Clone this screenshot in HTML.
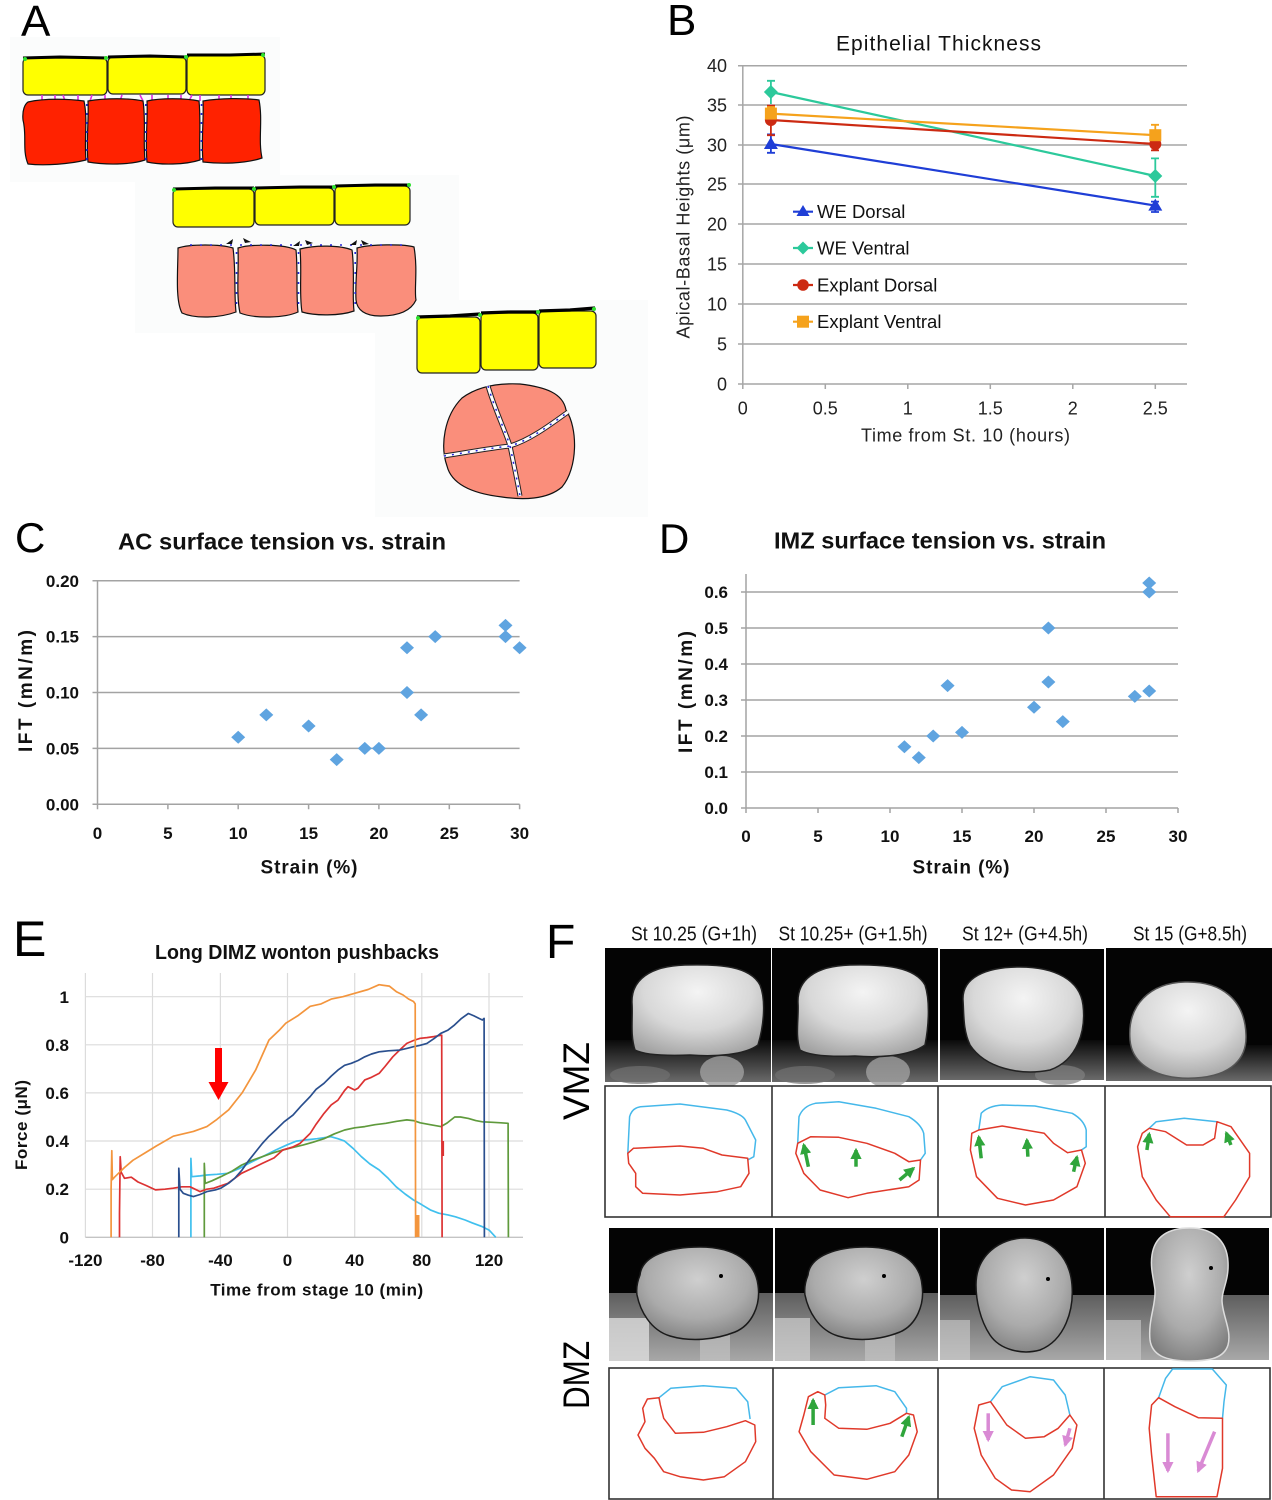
<!DOCTYPE html>
<html><head><meta charset="utf-8"><style>
html,body{margin:0;padding:0;background:#fff;}
svg{display:block;}
text{font-family:"Liberation Sans",Arial,sans-serif;}
</style></head><body>
<svg width="1272" height="1500" viewBox="0 0 1272 1500" xmlns="http://www.w3.org/2000/svg">
<defs>
<radialGradient id="gv" cx="50%" cy="30%" r="75%"><stop offset="0" stop-color="#f4f4f4"/><stop offset="0.55" stop-color="#d8d8d8"/><stop offset="1" stop-color="#a2a2a2"/></radialGradient>
<radialGradient id="gd" cx="50%" cy="35%" r="70%"><stop offset="0" stop-color="#cfcfcf"/><stop offset="0.6" stop-color="#ababab"/><stop offset="1" stop-color="#7e7e7e"/></radialGradient>
<linearGradient id="vb" x1="0" y1="0" x2="0" y2="1"><stop offset="0" stop-color="#0a0a0a"/><stop offset="1" stop-color="#6a6a6a"/></linearGradient>
<linearGradient id="db" x1="0" y1="0" x2="0" y2="1"><stop offset="0" stop-color="#5e5e5e"/><stop offset="1" stop-color="#a8a8a8"/></linearGradient>
<marker id="ag" viewBox="0 0 10 10" refX="8" refY="5" markerWidth="3.2" markerHeight="3.2" orient="auto" markerUnits="strokeWidth"><path d="M0,0L10,5L0,10z" fill="#2fa53b"/></marker>
<marker id="ap" viewBox="0 0 10 10" refX="8" refY="5" markerWidth="3.2" markerHeight="3.2" orient="auto" markerUnits="strokeWidth"><path d="M0,0L10,5L0,10z" fill="#d98ad4"/></marker>
</defs>

<!-- ================= PANEL A ================= -->
<rect x="10" y="37" width="270" height="145" fill="#fbfcfc"/>
<rect x="135" y="175" width="324" height="158" fill="#fbfcfc"/>
<rect x="375" y="300" width="273" height="217" fill="#fbfcfc"/>
<text x="21" y="36" font-size="44" fill="#000">A</text>

<!-- row 1 -->
<g stroke="#222" stroke-width="1.2" fill="#ffff00">
<rect x="23" y="58" width="84" height="37" rx="5"/>
<rect x="108" y="57" width="78" height="37" rx="5"/>
<rect x="187" y="55" width="78" height="40" rx="5"/>
</g>
<path d="M23,58 L60,57 L107,58 M108,57 L150,56 L186,57 M187,55 L230,55 L265,54" stroke="#000" stroke-width="3" fill="none"/>
<g fill="#2ee02e"><circle cx="25" cy="59" r="2"/><circle cx="106" cy="58" r="2"/><circle cx="186" cy="57" r="2"/><circle cx="263" cy="55" r="2"/></g>
<g stroke="#e030e0" stroke-width="1.6">
<path d="M42,95v6M55,95v6M63,95l2,6M78,95v6M92,95l-2,6M105,95v6M122,95l-2,6M140,95l3,6M152,95v6M168,95v6M181,95v6M192,95l-3,6M200,95v6M219,95v6M231,95v6M248,95v6"/>
</g>
<g stroke="#111" stroke-width="1.2" fill="#ff2200">
<path d="M28,102 C45,98 70,99 84,101 C88,120 84,140 86,160 C70,164 45,166 28,164 C22,150 27,135 23,120 C22,110 25,104 28,102 Z"/>
<path d="M88,101 C105,98 130,98 143,101 C146,120 143,140 145,160 C130,165 105,165 88,162 C86,140 89,120 88,101 Z"/>
<path d="M147,101 C160,98 185,98 199,101 C201,120 199,140 200,160 C185,165 160,165 147,162 C145,140 148,120 147,101 Z"/>
<path d="M203,101 C220,98 245,98 259,100 C263,120 258,140 262,158 C245,164 220,164 203,162 C201,140 204,120 203,101 Z"/>
</g>
<g stroke="#2424d8" stroke-width="1.6" stroke-dasharray="2 7"><path d="M86.8,104V160M145.8,104V160M201.5,104V160"/></g>

<!-- row 2 -->
<g stroke="#222" stroke-width="1.2" fill="#ffff00">
<rect x="173" y="189" width="81" height="38" rx="5"/>
<rect x="255" y="188" width="79" height="37" rx="5"/>
<rect x="335" y="186" width="75" height="39" rx="5"/>
</g>
<path d="M173,189 L215,188 L254,188 M255,188 L300,187 L334,187 M335,186 L375,185 L410,185" stroke="#000" stroke-width="3" fill="none"/>
<g fill="#2ee02e"><circle cx="174" cy="190" r="2"/><circle cx="254" cy="189" r="2"/><circle cx="334" cy="187" r="2"/><circle cx="409" cy="185" r="2"/></g>
<g stroke="#111" stroke-width="1.2" fill="#fa8e7b">
<path d="M178,248 C190,244 220,244 233,248 C236,270 234,295 236,312 C220,318 195,319 182,313 C175,300 178,270 178,248 Z"/>
<path d="M238,248 C250,244 285,244 296,250 C298,270 296,295 298,312 C285,318 255,319 240,313 C236,295 239,270 238,248 Z"/>
<path d="M300,249 C315,245 340,245 352,250 C355,270 352,295 354,311 C340,316 315,316 302,312 C299,295 302,270 300,249 Z"/>
<path d="M357,248 C370,244 405,244 414,247 C418,270 414,290 416,300 C410,313 395,316 380,316 C365,316 357,310 356,300 C355,280 358,265 357,248 Z"/>
</g>
<g stroke="#2424d8" stroke-width="1.6" stroke-dasharray="2 8"><path d="M190,245H410M236.5,252V312M298.5,252V312M355.2,252V312"/></g>
<g fill="#111"><path d="M226,244l7,-5l-1,5z M243,238l8,4l-6,1z M293,246l7,-5l-1,5z M305,240l8,3l-6,2z M350,245l7,-5l-1,5z M361,240l8,4l-6,1z"/></g>

<!-- row 3 -->
<g stroke="#222" stroke-width="1.2" fill="#ffff00">
<rect x="417" y="317" width="63" height="56" rx="5"/>
<rect x="481" y="313" width="57" height="57" rx="5"/>
<rect x="539" y="311" width="57" height="57" rx="5"/>
</g>
<path d="M417,317 L450,316 L480,314 M481,313 L510,312 L538,312 M539,311 L570,310 L595,308" stroke="#000" stroke-width="3.2" fill="none"/>
<g fill="#2ee02e"><circle cx="418" cy="318" r="2"/><circle cx="480" cy="315" r="2"/><circle cx="538" cy="312" r="2"/><circle cx="594" cy="309" r="2"/></g>
<path d="M462,398 C478,386 500,383 520,384 C545,387 563,393 566,410 C578,428 578,468 562,487 C547,500 522,500 502,497 C476,494 452,486 447,466 C440,446 444,416 462,398 Z" fill="#fa8e7b" stroke="#111" stroke-width="1.2"/>
<path d="M488,386 C495,410 505,430 510,446 C514,465 517,480 520,496 M444,456 C470,452 490,448 510,446 C530,440 550,425 568,412" stroke="#222" stroke-width="5" fill="none"/>
<path d="M488,386 C495,410 505,430 510,446 C514,465 517,480 520,496 M444,456 C470,452 490,448 510,446 C530,440 550,425 568,412" stroke="#fff" stroke-width="3" fill="none"/>
<path d="M488,386 C495,410 505,430 510,446 C514,465 517,480 520,496 M444,456 C470,452 490,448 510,446 C530,440 550,425 568,412" stroke="#2424d8" stroke-width="1.5" stroke-dasharray="2 6" fill="none"/>

<!-- ================= PANEL B ================= -->
<text x="667" y="35" font-size="44">B</text>
<text x="938.5" y="50.5" font-size="21" text-anchor="middle" textLength="205" fill="#111">Epithelial Thickness</text>
<g stroke="#a6a6a6" stroke-width="1.5">
<path d="M742.8,65.7H1187M742.8,105H1187M742.8,145H1187M742.8,184H1187M742.8,224H1187M742.8,264H1187M742.8,304H1187M742.8,344H1187M742.8,384H1187"/>
<path d="M742.8,65.7V384"/>
<path d="M738,65.7h5M738,105h5M738,145h5M738,184h5M738,224h5M738,264h5M738,304h5M738,344h5M738,384h5"/>
<path d="M742.8,384v5M825.3,384v5M907.8,384v5M990.3,384v5M1072.8,384v5M1155.3,384v5"/>
</g>
<g font-size="18" fill="#222" text-anchor="end">
<text x="727" y="72">40</text><text x="727" y="111.5">35</text><text x="727" y="151.5">30</text><text x="727" y="190.5">25</text><text x="727" y="230.5">20</text><text x="727" y="270.5">15</text><text x="727" y="310.5">10</text><text x="727" y="350.5">5</text><text x="727" y="390.5">0</text>
</g>
<g font-size="18" fill="#222" text-anchor="middle">
<text x="742.8" y="414.5">0</text><text x="825.3" y="414.5">0.5</text><text x="907.8" y="414.5">1</text><text x="990.3" y="414.5">1.5</text><text x="1072.8" y="414.5">2</text><text x="1155.3" y="414.5">2.5</text>
</g>
<text x="965.5" y="441.5" font-size="18" text-anchor="middle" textLength="209" fill="#222">Time from St. 10 (hours)</text>
<text transform="translate(689.5,227) rotate(-90)" font-size="18" text-anchor="middle" textLength="223" fill="#222">Apical-Basal Heights (μm)</text>
<g stroke-width="1.8">
<path d="M770.9,152.8V134.4M767,152.8h8M767,134.4h8M1155.3,212V201.6M1151,212h8M1151,201.6h8" stroke="#1f3ed6"/>
<path d="M770.9,104V80.8M767,80.8h8M1155.3,196.8V158.4M1151,196.8h8M1151,158.4h8" stroke="#2cc99b"/>
<path d="M770.9,135.2V105.6M767,135.2h8M767,105.6h8M1155.3,150.4V137.6M1151,150.4h8" stroke="#cc2a12"/>
<path d="M770.9,120V107M767,107h8M1155.3,144V124.8M1151,124.8h8" stroke="#f5a21c"/>
</g>
<g stroke-width="2.2" fill="none">
<path d="M770.9,144L1155.3,205.6" stroke="#1f3ed6"/>
<path d="M770.9,92L1155.3,176" stroke="#2cc99b"/>
<path d="M770.9,120L1155.3,144" stroke="#cc2a12"/>
<path d="M770.9,113.6L1155.3,135.2" stroke="#f5a21c"/>
</g>
<path d="M770.9,137l7,12h-14z M1155.3,198.6l7,12h-14z" fill="#1f3ed6"/>
<path d="M770.9,85l7,7-7,7-7-7z M1155.3,169l7,7-7,7-7-7z" fill="#2cc99b"/>
<circle cx="770.9" cy="120" r="6" fill="#cc2a12"/><circle cx="1155.3" cy="144" r="6" fill="#cc2a12"/>
<rect x="764.9" y="107.6" width="12" height="12" fill="#f5a21c"/><rect x="1149.3" y="129.2" width="12" height="12" fill="#f5a21c"/>
<g stroke-width="2.2">
<path d="M793,211.7h20" stroke="#1f3ed6"/><path d="M793,248h20" stroke="#2cc99b"/><path d="M793,285h20" stroke="#cc2a12"/><path d="M793,321.7h20" stroke="#f5a21c"/>
</g>
<path d="M803,205l6.5,11h-13z" fill="#1f3ed6"/>
<path d="M803,241.5l6.5,6.5-6.5,6.5-6.5-6.5z" fill="#2cc99b"/>
<circle cx="803" cy="285" r="5.8" fill="#cc2a12"/>
<rect x="797" y="315.7" width="12" height="12" fill="#f5a21c"/>
<g font-size="18.5" fill="#111">
<text x="817" y="218">WE Dorsal</text><text x="817" y="254.5">WE Ventral</text><text x="817" y="291.5">Explant Dorsal</text><text x="817" y="328">Explant Ventral</text>
</g>

<!-- ================= PANEL C ================= -->
<text x="15" y="552" font-size="42">C</text>
<text x="118" y="549.5" font-size="23" font-weight="bold" textLength="328" lengthAdjust="spacingAndGlyphs" fill="#111">AC surface tension vs. strain</text>
<g stroke="#a3a3a3" stroke-width="1.5">
<path d="M97.5,580.7H519.6M97.5,636.6H519.6M97.5,692.5H519.6M97.5,748.4H519.6M97.5,804.3H519.6"/>
<path d="M97.5,580.7V804.3"/>
<path d="M92.5,580.7h5M92.5,636.6h5M92.5,692.5h5M92.5,748.4h5M92.5,804.3h5"/>
<path d="M97.5,804.3v5M167.9,804.3v5M238.2,804.3v5M308.6,804.3v5M378.9,804.3v5M449.3,804.3v5M519.6,804.3v5"/>
</g>
<g font-size="17" font-weight="bold" fill="#111" text-anchor="end">
<text x="79" y="587">0.20</text><text x="79" y="642.7">0.15</text><text x="79" y="698.6">0.10</text><text x="79" y="754.5">0.05</text><text x="79" y="810.4">0.00</text>
</g>
<g font-size="17" font-weight="bold" fill="#111" text-anchor="middle">
<text x="97.5" y="839">0</text><text x="167.9" y="839">5</text><text x="238.2" y="839">10</text><text x="308.6" y="839">15</text><text x="378.9" y="839">20</text><text x="449.3" y="839">25</text><text x="519.6" y="839">30</text>
</g>
<text x="309" y="873.5" font-size="19" font-weight="bold" text-anchor="middle" textLength="97" fill="#111">Strain (%)</text>
<text transform="translate(32,691) rotate(-90)" font-size="19" font-weight="bold" text-anchor="middle" textLength="122" fill="#111">IFT (mN/m)</text>
<g fill="#5fa4e0">
<path d="M238.2,730.7l7,6.5-7,6.5-7-6.5z M266.3,708.4l7,6.5-7,6.5-7-6.5z M308.6,719.5l7,6.5-7,6.5-7-6.5z M336.7,753.1l7,6.5-7,6.5-7-6.5z M364.8,741.9l7,6.5-7,6.5-7-6.5z M378.9,741.9l7,6.5-7,6.5-7-6.5z M407,641.3l7,6.5-7,6.5-7-6.5z M407,686l7,6.5-7,6.5-7-6.5z M421.1,708.4l7,6.5-7,6.5-7-6.5z M435.2,630.1l7,6.5-7,6.5-7-6.5z M505.5,618.9l7,6.5-7,6.5-7-6.5z M505.5,630.1l7,6.5-7,6.5-7-6.5z M519.6,641.3l7,6.5-7,6.5-7-6.5z"/>
</g>

<!-- ================= PANEL D ================= -->
<text x="659" y="553" font-size="42">D</text>
<text x="774" y="548.5" font-size="23" font-weight="bold" textLength="332" lengthAdjust="spacingAndGlyphs" fill="#111">IMZ surface tension vs. strain</text>
<g stroke="#a3a3a3" stroke-width="1.5">
<path d="M746,592H1178M746,628H1178M746,664H1178M746,700H1178M746,736H1178M746,772H1178M746,808H1178"/>
<path d="M746,574V808"/>
<path d="M741,592h5M741,628h5M741,664h5M741,700h5M741,736h5M741,772h5M741,808h5"/>
<path d="M746,808v5M818,808v5M890,808v5M962,808v5M1034,808v5M1106,808v5M1178,808v5"/>
</g>
<g font-size="17" font-weight="bold" fill="#111" text-anchor="end">
<text x="728" y="598">0.6</text><text x="728" y="634">0.5</text><text x="728" y="670">0.4</text><text x="728" y="706">0.3</text><text x="728" y="742">0.2</text><text x="728" y="778">0.1</text><text x="728" y="814">0.0</text>
</g>
<g font-size="17" font-weight="bold" fill="#111" text-anchor="middle">
<text x="746" y="842">0</text><text x="818" y="842">5</text><text x="890" y="842">10</text><text x="962" y="842">15</text><text x="1034" y="842">20</text><text x="1106" y="842">25</text><text x="1178" y="842">30</text>
</g>
<text x="961" y="873.5" font-size="19" font-weight="bold" text-anchor="middle" textLength="97" fill="#111">Strain (%)</text>
<text transform="translate(692,692) rotate(-90)" font-size="19" font-weight="bold" text-anchor="middle" textLength="122" fill="#111">IFT (mN/m)</text>
<g fill="#5fa4e0">
<path d="M904.4,740.3l7,6.5-7,6.5-7-6.5z M918.8,751.1l7,6.5-7,6.5-7-6.5z M933.2,729.5l7,6.5-7,6.5-7-6.5z M947.6,679.1l7,6.5-7,6.5-7-6.5z M962,725.9l7,6.5-7,6.5-7-6.5z M1034,700.7l7,6.5-7,6.5-7-6.5z M1048.4,621.5l7,6.5-7,6.5-7-6.5z M1048.4,675.5l7,6.5-7,6.5-7-6.5z M1062.8,715.1l7,6.5-7,6.5-7-6.5z M1134.8,689.9l7,6.5-7,6.5-7-6.5z M1149.2,576.5l7,6.5-7,6.5-7-6.5z M1149.2,585.5l7,6.5-7,6.5-7-6.5z M1149.2,684.5l7,6.5-7,6.5-7-6.5z"/>
</g>

<!-- ================= PANEL E ================= -->
<text x="13" y="956" font-size="50">E</text>
<text x="297" y="959" font-size="20" font-weight="bold" text-anchor="middle" textLength="284" lengthAdjust="spacingAndGlyphs" fill="#111">Long DIMZ wonton pushbacks</text>
<g stroke="#dcdcdc" stroke-width="1.2">
<path d="M85.4,973V1237.3M152.5,973V1237.3M220.4,973V1237.3M287.5,973V1237.3M354.7,973V1237.3M421.8,973V1237.3M489,973V1237.3"/>
<path d="M85.4,996.7H523M85.4,1044.8H523M85.4,1092.9H523M85.4,1141H523M85.4,1189.2H523"/>
</g>
<path d="M85.4,1237.3H523" stroke="#c4c4c4" stroke-width="1.4"/>
<g font-size="17" font-weight="bold" fill="#111" text-anchor="end">
<text x="69" y="1003">1</text><text x="69" y="1051">0.8</text><text x="69" y="1099">0.6</text><text x="69" y="1147">0.4</text><text x="69" y="1195">0.2</text><text x="69" y="1243.5">0</text>
</g>
<g font-size="17" font-weight="bold" fill="#111" text-anchor="middle">
<text x="85.4" y="1266">-120</text><text x="152.5" y="1266">-80</text><text x="220.4" y="1266">-40</text><text x="287.5" y="1266">0</text><text x="354.7" y="1266">40</text><text x="421.8" y="1266">80</text><text x="489" y="1266">120</text>
</g>
<text x="316.7" y="1295.5" font-size="17" font-weight="bold" text-anchor="middle" textLength="213" fill="#111">Time from stage 10 (min)</text>
<text transform="translate(27,1125) rotate(-90)" font-size="17" font-weight="bold" text-anchor="middle" textLength="90" fill="#111">Force (μN)</text>
<g fill="none" stroke-width="1.7" stroke-linejoin="round">
<polyline stroke="#40c0ee" points="190.9,1237.3 190.9,1158.4 191.7,1176.7 200.1,1175.9 206.9,1175 216.9,1174.3 227.7,1173.3 238.8,1168.7 248.9,1163.4 262.3,1156.7 275.7,1150 287.5,1144.7 296.4,1141.1 306,1139.9 317.1,1138.7 330.8,1136.7 337.9,1138.7 344.6,1141.1 353,1148.3 361.4,1156.7 369.8,1163.9 379.1,1169.9 388.3,1178.4 396.2,1186.8 405.1,1194 413.5,1200 421.9,1204.8 430.3,1209.9 438.7,1213.2 448,1214.9 455.5,1216.8 465.1,1220 472.3,1222.9 482.4,1226.7 489.1,1230.1 495.8,1237.3"/>
<polyline stroke="#5f9a3c" points="204.3,1237.3 204.3,1163.4 205.2,1183.4 211.9,1180.8 220.8,1176.7 232.1,1171.1 241.5,1165.1 252.2,1160.3 262.3,1156.7 272.4,1153.1 282.8,1150 292.5,1147.6 303.3,1144.9 312.7,1142.3 324,1138.7 334.5,1133.8 344.6,1130 354.7,1127.8 364.8,1126.6 374.9,1124.7 385.9,1123.3 396.7,1121.3 406.8,1119.9 413.5,1120.6 420.2,1122.8 430.3,1124.7 440.9,1126.6 447.1,1123 454.7,1117 460.5,1117 468.4,1118.4 475.7,1120.6 482.4,1121.8 492.5,1122.3 500.9,1122.8 508.1,1123.3 508.4,1237.3"/>
<polyline stroke="#dc3232" points="119.5,1237.3 119.5,1213 120.2,1156.7 121.2,1172.3 124.5,1178.3 131.3,1177.2 138,1182 146.4,1185.6 155.5,1189.9 164.9,1189.2 173.3,1188.2 181.7,1186.8 190.1,1186.8 200.1,1191.6 206.9,1189.2 213.9,1188.2 227.7,1183.4 241.5,1173.3 253.9,1167.5 262.3,1163.4 274.1,1157.9 282.8,1150 292.5,1147.1 299.9,1143.5 310.2,1133.4 316.1,1124.2 324,1113.4 331.2,1104.9 337.9,1100.2 344.6,1090.5 348,1086.7 354.7,1090 358.1,1088.1 364.8,1079.9 371.5,1077.3 379.1,1073.4 385,1066.5 392.8,1056.8 400.1,1049.6 406.8,1043.4 413.5,1040.5 420.2,1038.3 426.9,1037.6 433.7,1036.6 441.7,1035.2 442.1,1237.3"/>
<path d="M443,1141V1156" stroke="#dc3232" stroke-width="2.2"/>
<polyline stroke="#2a4f8e" points="178.8,1237.3 178.8,1168.2 180,1189.2 183.3,1193.3 188.4,1195.2 193.4,1196.6 200.1,1194.5 206.9,1191.6 215.3,1189.9 220.8,1188.2 228.7,1183.2 234.6,1178.4 242.1,1169.9 248.9,1160.3 255.6,1151.9 262.3,1143.5 269,1136.2 275.7,1130 284.1,1121.8 293,1115.1 300.9,1106.2 310.2,1096.5 316.1,1089.3 324,1083.3 331.2,1076.1 337.9,1070.1 344.6,1065.3 351.3,1063.3 358.1,1060.5 364.8,1056.8 371.5,1054 379.1,1051.8 388.3,1050.8 399.7,1050.1 406.8,1048.4 413.5,1046.7 420.2,1045.3 426.9,1043.4 433.7,1038.8 440.9,1033.3 448,1030.1 453.8,1025.6 461.5,1018.4 468.4,1013.5 474,1015.9 479,1018.4 482.4,1020 484.1,1018.4 484.4,1237.3"/>
<polyline stroke="#f3953d" points="111.1,1237.3 111.1,1189.2 111.8,1150.7 112.4,1179.6 114.5,1177.2 119.5,1172.3 124.5,1167.5 132.9,1160.3 144.7,1153.1 156.5,1145.9 173.3,1136.2 193.4,1131.4 206.9,1126.6 216.9,1119.4 228.7,1109.8 242.1,1092.9 255.6,1070.1 269,1040 279.1,1030.4 285.8,1023.2 297.6,1015.9 310.2,1006.3 321.1,1003.9 331.2,999.1 342.9,996.7 354.7,993.3 368.1,989.5 379.1,984.7 389.3,986.1 396.7,991.9 403.1,995 408.5,999 413.5,1001.5 415.2,1003.9 415.6,1237.3"/>
<path d="M416.5,1237V1215M418.5,1237V1215" stroke="#f3953d" stroke-width="2"/>
</g>
<rect x="215" y="1048" width="7" height="35" fill="#ff0000"/>
<path d="M208.5,1082H228.5L218.5,1100Z" fill="#ff0000"/>

<!-- ================= PANEL F ================= -->
<text x="546" y="958" font-size="48">F</text>
<g font-size="20" fill="#111" text-anchor="middle">
<text x="694" y="940.5" textLength="126" lengthAdjust="spacingAndGlyphs">St 10.25 (G+1h)</text>
<text x="853" y="940.5" textLength="149" lengthAdjust="spacingAndGlyphs">St 10.25+ (G+1.5h)</text>
<text x="1025" y="940.5" textLength="126" lengthAdjust="spacingAndGlyphs">St 12+ (G+4.5h)</text>
<text x="1190" y="940.5" textLength="114" lengthAdjust="spacingAndGlyphs">St 15 (G+8.5h)</text>
</g>
<text transform="translate(589,1081) rotate(-90)" font-size="37" text-anchor="middle" textLength="78" lengthAdjust="spacingAndGlyphs">VMZ</text>
<text transform="translate(589,1375) rotate(-90)" font-size="37" text-anchor="middle" textLength="68" lengthAdjust="spacingAndGlyphs">DMZ</text>

<!-- VMZ photos -->
<g>
<rect x="605" y="948" width="166" height="134" fill="#040404"/>
<rect x="605" y="1040" width="166" height="42" fill="url(#vb)"/>
<ellipse cx="722" cy="1072" rx="22" ry="16" fill="#a0a0a0" opacity="0.8"/>
<ellipse cx="640" cy="1075" rx="30" ry="9" fill="#707070" opacity="0.7"/>
<path d="M632,1003 C631,980 650,966 685,965 C720,964 750,966 760,985 C766,1000 764,1025 758,1045 C745,1055 715,1057 690,1055 C665,1056 645,1055 635,1050 C630,1035 633,1018 632,1003 Z" fill="url(#gv)" stroke="#222" stroke-width="1.5"/>

<rect x="772" y="948" width="166" height="134" fill="#040404"/>
<rect x="772" y="1040" width="166" height="42" fill="url(#vb)"/>
<ellipse cx="888" cy="1072" rx="22" ry="16" fill="#a0a0a0" opacity="0.8"/>
<ellipse cx="805" cy="1075" rx="30" ry="9" fill="#707070" opacity="0.7"/>
<path d="M798,1003 C797,980 815,966 850,965 C885,964 915,967 925,985 C930,1000 929,1025 925,1045 C910,1056 880,1058 855,1056 C830,1057 810,1056 800,1050 C795,1035 799,1018 798,1003 Z" fill="url(#gv)" stroke="#222" stroke-width="1.5"/>

<rect x="940" y="949" width="164" height="131" fill="#040404"/>
<rect x="940" y="1040" width="164" height="40" fill="url(#vb)"/>
<ellipse cx="1060" cy="1075" rx="25" ry="10" fill="#808080" opacity="0.7"/>
<path d="M963,1000 C962,978 985,967 1020,967 C1055,967 1080,980 1083,1005 C1086,1030 1078,1060 1050,1070 C1020,1076 985,1068 970,1045 C963,1030 964,1015 963,1000 Z" fill="url(#gv)" stroke="#222" stroke-width="1.5"/>

<rect x="1106" y="948" width="166" height="133" fill="#040404"/>
<rect x="1106" y="1045" width="166" height="36" fill="url(#vb)"/>
<path d="M1130,1040 C1127,1005 1150,983 1185,982 C1222,981 1245,1000 1246,1035 C1247,1058 1232,1076 1195,1078 C1158,1080 1132,1065 1130,1040 Z" fill="url(#gv)" stroke="#555" stroke-width="1.5"/>
</g>

<!-- VMZ outlines -->
<rect x="605" y="1086" width="666" height="131" fill="#fff" stroke="#333" stroke-width="1.6"/>
<path d="M772,1086V1217M938,1086V1217M1105,1086V1217" stroke="#333" stroke-width="1.6"/>
<g fill="none" stroke-width="1.5" stroke-linejoin="round">
<path stroke="#45b8ea" d="M627.8,1153.3 L629.6,1116.7 Q632,1108 640.4,1106.7 L680,1104 L726.7,1110 Q742,1114 745.4,1120 L755.7,1140 L753.8,1156.7 L747.7,1160"/>
<path stroke="#e0392a" d="M627.8,1153.3 L633.4,1148.3 L680,1146 L703.4,1148.3 L722,1155 L747.7,1158.3 L749,1173.3 L740.7,1186.7 L717.4,1191.7 L680,1195 L642.7,1193.3 L635.7,1186.7 L635.7,1173.3 L628.7,1163.3 Z"/>
<path stroke="#45b8ea" d="M797.7,1143.3 L799,1116.7 Q803,1106 815.4,1103.3 L838.8,1101.7 L876.1,1108.3 L908.8,1116.7 Q921,1124 923.7,1133.3 L925.2,1153.3 L920.5,1160"/>
<path stroke="#e0392a" d="M797.7,1143.3 L810.8,1136.7 L838.8,1137.3 L866.8,1143.3 L894.8,1153.3 L908.8,1161.7 L920.5,1160 L919.1,1180 L908.8,1186.7 L866.8,1193.3 L848.1,1197.7 L820.1,1190 L803.8,1173.3 L795.8,1153.3 Z"/>
<path stroke="#45b8ea" d="M978.8,1130 L981.2,1113.3 Q988,1106 1002.2,1105 L1034.9,1106 L1072.2,1113.3 Q1084,1120 1086.2,1130 L1086.2,1146.7 L1081.5,1150"/>
<path stroke="#e0392a" d="M978.8,1130 L1002.2,1126 L1044.2,1133.3 L1053.5,1143.3 L1067.6,1152.7 L1081.5,1150 L1085.3,1163.3 L1076.9,1186.7 L1053.5,1200 L1025.5,1205 L997.5,1198.3 L976.5,1176.7 L970.4,1150 L971.8,1133.3 Z"/>
<path stroke="#45b8ea" d="M1149.2,1128.3 L1156.2,1121.7 L1184.2,1118.3 L1217,1121.7"/>
<path stroke="#e0392a" d="M1149.2,1128.3 L1165.6,1131.7 L1186.6,1145 L1203,1145 L1214.6,1138.3 L1217,1121.7 L1231,1126.7 L1249.6,1153.3 L1249.6,1176.7 L1235.6,1200 L1223.9,1216.7 L1170.2,1216.7 L1156.2,1200 L1142.3,1176.7 L1137.6,1146.7 L1142.3,1133.3 Z"/>
</g>
<g stroke="#2fa53b" stroke-width="3.5" marker-end="url(#ag)">
<path d="M808.4,1166.7L803.8,1145"/><path d="M856,1166.7L856,1150"/><path d="M899.5,1180L913.5,1168.3"/>
<path d="M981.2,1158.3L978.8,1137"/><path d="M1027.9,1156.7L1026.9,1140"/><path d="M1073.6,1171.7L1076.9,1157"/>
<path d="M1146.9,1150L1149.2,1134"/><path d="M1230.9,1145L1226.3,1133"/>
</g>

<!-- DMZ photos -->
<g>
<rect x="609" y="1228" width="164" height="133" fill="#040404"/>
<rect x="609" y="1293" width="164" height="68" fill="url(#db)"/>
<rect x="609" y="1318" width="40" height="43" fill="#dcdcdc" opacity="0.8"/>
<rect x="700" y="1320" width="30" height="41" fill="#c8c8c8" opacity="0.6"/>
<path d="M640,1275 C642,1255 670,1247 700,1247 C735,1247 755,1262 758,1285 C761,1305 752,1325 735,1332 C715,1340 690,1342 670,1336 C650,1330 640,1310 637,1295 C636,1288 638,1280 640,1275 Z" fill="url(#gd)" stroke="#1a1a1a" stroke-width="1.5"/>
<circle cx="721" cy="1276" r="2" fill="#000"/>

<rect x="775" y="1228" width="163" height="133" fill="#040404"/>
<rect x="775" y="1293" width="163" height="68" fill="url(#db)"/>
<rect x="775" y="1318" width="35" height="43" fill="#cfcfcf" opacity="0.7"/>
<rect x="865" y="1320" width="30" height="41" fill="#c8c8c8" opacity="0.6"/>
<path d="M808,1275 C810,1255 838,1247 866,1247 C900,1247 920,1262 922,1285 C925,1305 916,1325 900,1332 C880,1340 858,1342 838,1336 C818,1330 808,1310 805,1295 C804,1288 806,1280 808,1275 Z" fill="url(#gd)" stroke="#1a1a1a" stroke-width="1.5"/>
<circle cx="884" cy="1276" r="2" fill="#000"/>

<rect x="940" y="1228" width="164" height="132" fill="#040404"/>
<rect x="940" y="1295" width="164" height="65" fill="url(#db)"/>
<rect x="940" y="1320" width="30" height="40" fill="#cfcfcf" opacity="0.6"/>
<path d="M976,1285 C976,1255 1000,1238 1025,1238 C1052,1238 1070,1258 1072,1285 C1074,1310 1065,1340 1040,1350 C1022,1355 1000,1350 990,1335 C980,1320 976,1300 976,1285 Z" fill="url(#gd)" stroke="#1a1a1a" stroke-width="1.5"/>
<circle cx="1048" cy="1279" r="2" fill="#000"/>

<rect x="1106" y="1228" width="163" height="132" fill="#040404"/>
<rect x="1106" y="1295" width="163" height="65" fill="url(#db)"/>
<rect x="1106" y="1320" width="35" height="40" fill="#cfcfcf" opacity="0.6"/>
<path d="M1152,1255 C1155,1235 1170,1228 1190,1228 C1212,1228 1227,1240 1228,1262 C1229,1280 1222,1290 1222,1300 C1222,1315 1232,1330 1228,1345 C1224,1358 1210,1361 1190,1361 C1165,1361 1152,1355 1150,1340 C1148,1320 1156,1305 1155,1290 C1154,1280 1150,1268 1152,1255 Z" fill="url(#gd)" stroke="#ddd" stroke-width="1.5"/>
<circle cx="1211" cy="1268" r="2" fill="#000"/>
</g>

<!-- DMZ outlines -->
<rect x="609" y="1368" width="661" height="131" fill="#fff" stroke="#333" stroke-width="1.6"/>
<path d="M773,1368V1499M938,1368V1499M1104,1368V1499" stroke="#333" stroke-width="1.6"/>
<g fill="none" stroke-width="1.5" stroke-linejoin="round">
<path stroke="#45b8ea" d="M659,1397.7 L670.7,1388.3 L703.4,1385.7 L736.1,1388.3 L747.7,1401.7 L750.1,1419"/>
<path stroke="#e0392a" d="M659,1397.7 L647.4,1399 L642.7,1408.3 L645,1421.7 L638,1435 L645,1448.3 L654.4,1458.3 L663.7,1471.7 L680,1476.7 L703.4,1480 L724.4,1476.7 L745.4,1461.7 L755.7,1441.7 L754.8,1425 L745.4,1420.7 L726.7,1426.7 L703.4,1432.3 L675.4,1433.3 L663.7,1418.3 L660.4,1405 Z"/>
<path stroke="#45b8ea" d="M824.8,1395 L838.8,1387.7 L876.1,1385.7 L894.8,1391.7 L906.5,1408.3 L906.5,1413.3"/>
<path stroke="#e0392a" d="M824.8,1395 L817.8,1391.7 L808.4,1396.7 L803.8,1415 L799.1,1431.7 L810.8,1451.7 L834.1,1475 L866.8,1479.3 L894.8,1471.7 L908.8,1455 L917.2,1431.7 L913.5,1415 L906.5,1413.3 L890.1,1423.3 L866.8,1429.3 L838.8,1428.3 L824.8,1418.3 L825.7,1405 Z"/>
<path stroke="#45b8ea" d="M990.5,1401.7 L1002.2,1386.7 L1030.2,1376.7 L1053.5,1380 L1065.2,1395 L1069.9,1415"/>
<path stroke="#e0392a" d="M990.5,1401.7 L978.8,1405 L974.2,1428.3 L981.2,1455 L995.2,1478.3 L1011.5,1490 L1030.2,1491.7 L1053.5,1475 L1072.2,1448.3 L1076.9,1425 L1069.9,1415 L1058.2,1428.3 L1044.2,1436.7 L1025.5,1438.3 L1006.8,1425 L995.2,1408.3 Z"/>
<path stroke="#45b8ea" d="M1158.6,1397.7 L1165.6,1378.3 L1172.6,1369 L1212.3,1369 L1226.3,1385 L1224,1401.7 L1222.5,1418.3"/>
<path stroke="#e0392a" d="M1158.6,1397.7 L1151.6,1405 L1149.2,1428.3 L1151.6,1455 L1156.2,1496.7 L1217,1496.7 L1222.5,1468.3 L1222.5,1418.3 L1198.2,1417.7 L1174.9,1406.7 Z"/>
</g>
<g stroke="#2fa53b" stroke-width="3.5" marker-end="url(#ag)">
<path d="M813.1,1425L813.1,1400"/><path d="M901.8,1436.7L908.8,1417"/>
</g>
<g stroke="#d98ad4" stroke-width="3.5" marker-end="url(#ap)">
<path d="M988.2,1413.3L988.2,1440"/><path d="M1069.9,1428.3L1065.2,1445"/>
<path d="M1167.9,1433.3L1167.9,1471"/><path d="M1214.6,1431.7L1198.2,1471"/>
</g>
</svg>
</body></html>
